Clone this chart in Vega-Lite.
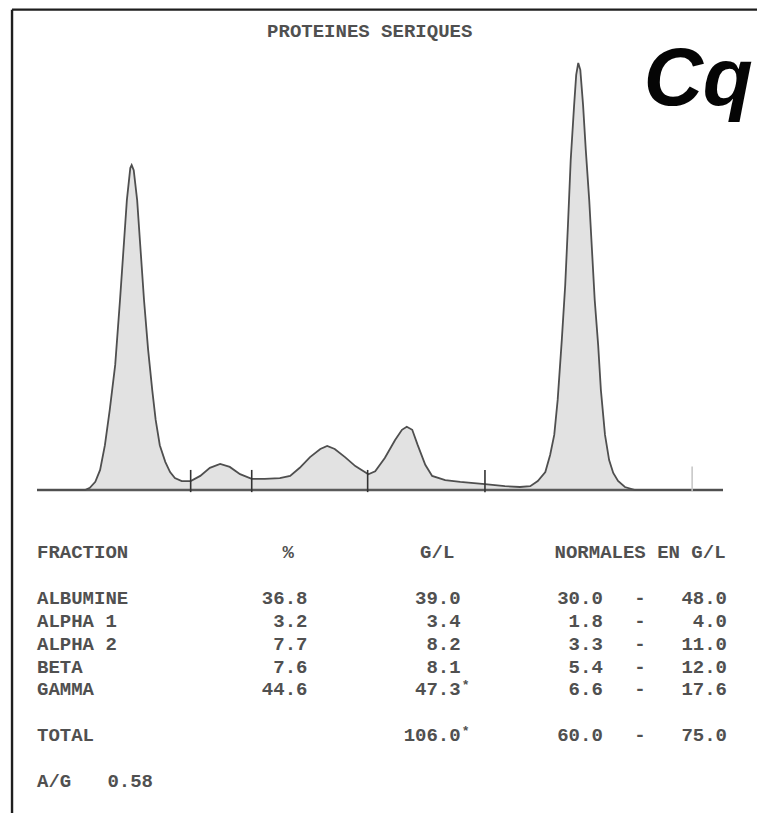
{
  "$schema": "https://vega.github.io/schema/vega-lite/v6.json",
  "description": "Serum protein electrophoresis: densitometric scan with the fraction report below it.",
  "width": 757,
  "height": 813,
  "autosize": {"type": "none"},
  "padding": 0,
  "background": "white",
  "config": {
    "view": {"stroke": null},
    "text": {"font": "Liberation Mono", "fontSize": 19, "fontWeight": "bold", "color": "#505050", "baseline": "middle"}
  },
  "datasets": {
    "scan": [
      {"u": 0, "d": 0}, {"u": 7.0, "d": 0}, {"u": 7.7, "d": 0.5}, {"u": 8.5, "d": 1.9}, {"u": 9.2, "d": 4.7},
      {"u": 9.9, "d": 10.5}, {"u": 10.6, "d": 18.7}, {"u": 11.4, "d": 29.3}, {"u": 12.1, "d": 44.5}, {"u": 12.7, "d": 58.5},
      {"u": 13.1, "d": 67.9}, {"u": 13.6, "d": 75.4}, {"u": 13.8, "d": 76.1}, {"u": 14.1, "d": 74.9}, {"u": 14.6, "d": 67.9},
      {"u": 15.0, "d": 58.5}, {"u": 15.6, "d": 44.5}, {"u": 16.2, "d": 32.8}, {"u": 16.8, "d": 23.4}, {"u": 17.3, "d": 16.4},
      {"u": 17.9, "d": 10.5}, {"u": 18.7, "d": 6.6}, {"u": 19.4, "d": 4.2}, {"u": 20.1, "d": 2.8}, {"u": 21.1, "d": 2.1},
      {"u": 22.4, "d": 2.1}, {"u": 23.8, "d": 3.3}, {"u": 25.2, "d": 5.2}, {"u": 26.7, "d": 6.1}, {"u": 28.1, "d": 5.4},
      {"u": 29.6, "d": 3.7}, {"u": 31.3, "d": 2.6}, {"u": 33.2, "d": 2.6}, {"u": 35.4, "d": 2.8}, {"u": 36.9, "d": 3.3},
      {"u": 38.3, "d": 5.2}, {"u": 39.8, "d": 7.7}, {"u": 41.3, "d": 9.6}, {"u": 42.3, "d": 10.3}, {"u": 43.4, "d": 9.6},
      {"u": 44.9, "d": 7.7}, {"u": 46.4, "d": 5.6}, {"u": 48.3, "d": 3.7}, {"u": 49.3, "d": 4.4}, {"u": 50.7, "d": 7.5},
      {"u": 52.2, "d": 11.7}, {"u": 53.2, "d": 14.1}, {"u": 53.9, "d": 14.8}, {"u": 54.7, "d": 14.1}, {"u": 55.5, "d": 10.5},
      {"u": 56.6, "d": 5.9}, {"u": 57.6, "d": 3.3}, {"u": 59.5, "d": 2.3}, {"u": 61.7, "d": 1.9}, {"u": 65.3, "d": 1.4},
      {"u": 68.2, "d": 0.9}, {"u": 70.4, "d": 0.7}, {"u": 71.9, "d": 0.9}, {"u": 73.0, "d": 2.1}, {"u": 74.1, "d": 4.2},
      {"u": 74.8, "d": 8.2}, {"u": 75.4, "d": 12.9}, {"u": 75.9, "d": 21.1}, {"u": 76.5, "d": 35.1}, {"u": 77.0, "d": 48.0},
      {"u": 77.4, "d": 62.1}, {"u": 77.8, "d": 77.3}, {"u": 78.3, "d": 90.2}, {"u": 78.6, "d": 97.2}, {"u": 78.9, "d": 100},
      {"u": 79.2, "d": 98.4}, {"u": 79.6, "d": 90.2}, {"u": 80.0, "d": 79.6}, {"u": 80.5, "d": 67.9}, {"u": 80.9, "d": 56.2},
      {"u": 81.3, "d": 44.5}, {"u": 81.8, "d": 34.0}, {"u": 82.2, "d": 23.4}, {"u": 82.8, "d": 12.9}, {"u": 83.4, "d": 7.0},
      {"u": 84.0, "d": 4.0}, {"u": 84.7, "d": 2.1}, {"u": 85.7, "d": 0.7}, {"u": 87.2, "d": 0}, {"u": 100, "d": 0}
    ],
    "cuts": [{"u": 22.4}, {"u": 31.3}, {"u": 48.2}, {"u": 65.3}],
    "marker": [{"u": 95.5}],
    "headers": [
      {"heading": "FRACTION"}, {"heading": "%"}, {"heading": "G/L"}, {"heading": "NORMALES EN G/L"}
    ],
    "report": [
      {"fraction": "ALBUMINE", "pct": 36.8, "gl": 39.0, "low": 30.0, "high": 48.0},
      {"fraction": "ALPHA 1", "pct": 3.2, "gl": 3.4, "low": 1.8, "high": 4.0},
      {"fraction": "ALPHA 2", "pct": 7.7, "gl": 8.2, "low": 3.3, "high": 11.0},
      {"fraction": "BETA", "pct": 7.6, "gl": 8.1, "low": 5.4, "high": 12.0},
      {"fraction": "GAMMA", "pct": 44.6, "gl": 47.3, "low": 6.6, "high": 17.6, "flag": "*"},
      {"fraction": "TOTAL", "gl": 106.0, "low": 60.0, "high": 75.0, "flag": "*"},
      {"fraction": "A/G", "ratio": 0.58}
    ]
  },
  "layer": [
    {
      "layer": [
        {
          "data": {"name": "scan"},
          "mark": {"type": "area", "color": "#e2e2e2", "opacity": 1},
          "encoding": {
            "x": {"field": "u", "type": "quantitative", "axis": null, "scale": {"domain": [0, 100], "range": [37, 723], "nice": false, "zero": false}},
            "y": {"field": "d", "type": "quantitative", "axis": null, "scale": {"domain": [0, 100], "range": [490, 63], "nice": false, "zero": false}},
            "y2": {"datum": 0}
          }
        },
        {
          "data": {"values": [{}]},
          "mark": {"type": "rule", "color": "#5a5a5a", "strokeWidth": 2.5},
          "encoding": {
            "x": {"datum": 0, "type": "quantitative", "axis": null, "scale": {"domain": [0, 100], "range": [37, 723], "nice": false, "zero": false}},
            "x2": {"datum": 100},
            "y": {"datum": 0, "type": "quantitative", "axis": null, "scale": {"domain": [0, 100], "range": [490, 63], "nice": false, "zero": false}}
          }
        },
        {
          "data": {"name": "scan"},
          "mark": {"type": "line", "color": "#4f4f4f", "strokeWidth": 1.8},
          "encoding": {
            "x": {"field": "u", "type": "quantitative", "axis": null, "scale": {"domain": [0, 100], "range": [37, 723], "nice": false, "zero": false}},
            "y": {"field": "d", "type": "quantitative", "axis": null, "scale": {"domain": [0, 100], "range": [490, 63], "nice": false, "zero": false}}
          }
        },
        {
          "data": {"name": "cuts"},
          "mark": {"type": "rule", "color": "#333333", "strokeWidth": 1.6},
          "encoding": {
            "x": {"field": "u", "type": "quantitative", "axis": null, "scale": {"domain": [0, 100], "range": [37, 723], "nice": false, "zero": false}},
            "y": {"datum": -0.5, "type": "quantitative", "axis": null, "scale": {"domain": [0, 100], "range": [490, 63], "nice": false, "zero": false}},
            "y2": {"datum": 4.7}
          }
        },
        {
          "data": {"name": "marker"},
          "mark": {"type": "rule", "color": "#c4c4c4", "strokeWidth": 1.5},
          "encoding": {
            "x": {"field": "u", "type": "quantitative", "axis": null, "scale": {"domain": [0, 100], "range": [37, 723], "nice": false, "zero": false}},
            "y": {"datum": -0.3, "type": "quantitative", "axis": null, "scale": {"domain": [0, 100], "range": [490, 63], "nice": false, "zero": false}},
            "y2": {"datum": 5.5}
          }
        },
        {
          "data": {"values": [{}]},
          "mark": {"type": "rule", "color": "#1e1e1e", "strokeWidth": 2.4},
          "encoding": {
            "x": {"datum": -3.64, "type": "quantitative", "axis": null, "scale": {"domain": [0, 100], "range": [37, 723], "nice": false, "zero": false}},
            "x2": {"datum": 108},
            "y": {"datum": 112.5, "type": "quantitative", "axis": null, "scale": {"domain": [0, 100], "range": [490, 63], "nice": false, "zero": false}}
          }
        },
        {
          "data": {"values": [{}]},
          "mark": {"type": "rule", "color": "#1e1e1e", "strokeWidth": 2.4},
          "encoding": {
            "x": {"datum": -3.64, "type": "quantitative", "axis": null, "scale": {"domain": [0, 100], "range": [37, 723], "nice": false, "zero": false}},
            "y": {"datum": 112.5, "type": "quantitative", "axis": null, "scale": {"domain": [0, 100], "range": [490, 63], "nice": false, "zero": false}},
            "y2": {"datum": -80}
          }
        },
        {
          "data": {"values": [{"heading": "PROTEINES SERIQUES"}]},
          "mark": {"type": "text", "align": "center"},
          "encoding": {
            "text": {"field": "heading"},
            "x": {"datum": 48.5, "type": "quantitative", "axis": null, "scale": {"domain": [0, 100], "range": [37, 723], "nice": false, "zero": false}},
            "y": {"datum": 107.5, "type": "quantitative", "axis": null, "scale": {"domain": [0, 100], "range": [490, 63], "nice": false, "zero": false}}
          }
        },
        {
          "data": {"values": [{"brand": "Cq"}]},
          "mark": {"type": "text", "align": "center", "baseline": "alphabetic", "font": "Liberation Sans", "fontSize": 82, "fontWeight": "bold", "fontStyle": "italic", "color": "#050505"},
          "encoding": {
            "text": {"field": "brand"},
            "x": {"datum": 96.4, "type": "quantitative", "axis": null, "scale": {"domain": [0, 100], "range": [37, 723], "nice": false, "zero": false}},
            "y": {"datum": 90.2, "type": "quantitative", "axis": null, "scale": {"domain": [0, 100], "range": [490, 63], "nice": false, "zero": false}}
          }
        }
      ]
    },
    {
      "layer": [
        {
          "data": {"name": "headers"},
          "transform": [{"filter": "datum.heading === 'FRACTION'"}],
          "mark": {"type": "text", "align": "left"},
          "encoding": {
            "text": {"field": "heading"},
            "x": {"datum": 0, "type": "quantitative", "axis": null, "scale": {"domain": [0, 50], "range": [37, 727], "nice": false, "zero": false}},
            "y": {"datum": "FRACTION", "type": "nominal", "axis": null, "scale": {"type": "point", "padding": 0, "domain": ["FRACTION", "_a", "ALBUMINE", "ALPHA 1", "ALPHA 2", "BETA", "GAMMA", "_b", "TOTAL", "_c", "A/G"], "range": [552, 781]}}
          }
        },
        {
          "data": {"name": "headers"},
          "transform": [{"filter": "datum.heading === '%'"}],
          "mark": {"type": "text", "align": "center"},
          "encoding": {
            "text": {"field": "heading"},
            "x": {"datum": 18.2, "type": "quantitative", "axis": null, "scale": {"domain": [0, 50], "range": [37, 727], "nice": false, "zero": false}},
            "y": {"datum": "FRACTION", "type": "nominal", "axis": null, "scale": {"type": "point", "padding": 0, "domain": ["FRACTION", "_a", "ALBUMINE", "ALPHA 1", "ALPHA 2", "BETA", "GAMMA", "_b", "TOTAL", "_c", "A/G"], "range": [552, 781]}}
          }
        },
        {
          "data": {"name": "headers"},
          "transform": [{"filter": "datum.heading === 'G/L'"}],
          "mark": {"type": "text", "align": "center"},
          "encoding": {
            "text": {"field": "heading"},
            "x": {"datum": 29.0, "type": "quantitative", "axis": null, "scale": {"domain": [0, 50], "range": [37, 727], "nice": false, "zero": false}},
            "y": {"datum": "FRACTION", "type": "nominal", "axis": null, "scale": {"type": "point", "padding": 0, "domain": ["FRACTION", "_a", "ALBUMINE", "ALPHA 1", "ALPHA 2", "BETA", "GAMMA", "_b", "TOTAL", "_c", "A/G"], "range": [552, 781]}}
          }
        },
        {
          "data": {"name": "headers"},
          "transform": [{"filter": "datum.heading === 'NORMALES EN G/L'"}],
          "mark": {"type": "text", "align": "center"},
          "encoding": {
            "text": {"field": "heading"},
            "x": {"datum": 43.7, "type": "quantitative", "axis": null, "scale": {"domain": [0, 50], "range": [37, 727], "nice": false, "zero": false}},
            "y": {"datum": "FRACTION", "type": "nominal", "axis": null, "scale": {"type": "point", "padding": 0, "domain": ["FRACTION", "_a", "ALBUMINE", "ALPHA 1", "ALPHA 2", "BETA", "GAMMA", "_b", "TOTAL", "_c", "A/G"], "range": [552, 781]}}
          }
        },
        {
          "data": {"name": "report"},
          "mark": {"type": "text", "align": "left"},
          "encoding": {
            "text": {"field": "fraction"},
            "x": {"datum": 0, "type": "quantitative", "axis": null, "scale": {"domain": [0, 50], "range": [37, 727], "nice": false, "zero": false}},
            "y": {"field": "fraction", "type": "nominal", "axis": null, "scale": {"type": "point", "padding": 0, "domain": ["FRACTION", "_a", "ALBUMINE", "ALPHA 1", "ALPHA 2", "BETA", "GAMMA", "_b", "TOTAL", "_c", "A/G"], "range": [552, 781]}}
          }
        },
        {
          "data": {"name": "report"},
          "transform": [{"filter": "isValid(datum.pct)"}],
          "mark": {"type": "text", "align": "right"},
          "encoding": {
            "text": {"field": "pct", "type": "quantitative", "format": ".1f"},
            "x": {"datum": 19.6, "type": "quantitative", "axis": null, "scale": {"domain": [0, 50], "range": [37, 727], "nice": false, "zero": false}},
            "y": {"field": "fraction", "type": "nominal", "axis": null, "scale": {"type": "point", "padding": 0, "domain": ["FRACTION", "_a", "ALBUMINE", "ALPHA 1", "ALPHA 2", "BETA", "GAMMA", "_b", "TOTAL", "_c", "A/G"], "range": [552, 781]}}
          }
        },
        {
          "data": {"name": "report"},
          "transform": [{"filter": "isValid(datum.gl)"}],
          "mark": {"type": "text", "align": "right"},
          "encoding": {
            "text": {"field": "gl", "type": "quantitative", "format": ".1f"},
            "x": {"datum": 30.7, "type": "quantitative", "axis": null, "scale": {"domain": [0, 50], "range": [37, 727], "nice": false, "zero": false}},
            "y": {"field": "fraction", "type": "nominal", "axis": null, "scale": {"type": "point", "padding": 0, "domain": ["FRACTION", "_a", "ALBUMINE", "ALPHA 1", "ALPHA 2", "BETA", "GAMMA", "_b", "TOTAL", "_c", "A/G"], "range": [552, 781]}}
          }
        },
        {
          "data": {"name": "report"},
          "transform": [{"filter": "isValid(datum.flag)"}],
          "mark": {"type": "text", "align": "left", "fontSize": 13, "dy": -4, "dx": 1},
          "encoding": {
            "text": {"field": "flag"},
            "x": {"datum": 30.7, "type": "quantitative", "axis": null, "scale": {"domain": [0, 50], "range": [37, 727], "nice": false, "zero": false}},
            "y": {"field": "fraction", "type": "nominal", "axis": null, "scale": {"type": "point", "padding": 0, "domain": ["FRACTION", "_a", "ALBUMINE", "ALPHA 1", "ALPHA 2", "BETA", "GAMMA", "_b", "TOTAL", "_c", "A/G"], "range": [552, 781]}}
          }
        },
        {
          "data": {"name": "report"},
          "transform": [{"filter": "isValid(datum.low)"}],
          "mark": {"type": "text", "align": "right"},
          "encoding": {
            "text": {"field": "low", "type": "quantitative", "format": ".1f"},
            "x": {"datum": 41.0, "type": "quantitative", "axis": null, "scale": {"domain": [0, 50], "range": [37, 727], "nice": false, "zero": false}},
            "y": {"field": "fraction", "type": "nominal", "axis": null, "scale": {"type": "point", "padding": 0, "domain": ["FRACTION", "_a", "ALBUMINE", "ALPHA 1", "ALPHA 2", "BETA", "GAMMA", "_b", "TOTAL", "_c", "A/G"], "range": [552, 781]}}
          }
        },
        {
          "data": {"name": "report"},
          "transform": [{"filter": "isValid(datum.low)"}],
          "mark": {"type": "text", "align": "center"},
          "encoding": {
            "text": {"value": "-"},
            "x": {"datum": 43.7, "type": "quantitative", "axis": null, "scale": {"domain": [0, 50], "range": [37, 727], "nice": false, "zero": false}},
            "y": {"field": "fraction", "type": "nominal", "axis": null, "scale": {"type": "point", "padding": 0, "domain": ["FRACTION", "_a", "ALBUMINE", "ALPHA 1", "ALPHA 2", "BETA", "GAMMA", "_b", "TOTAL", "_c", "A/G"], "range": [552, 781]}}
          }
        },
        {
          "data": {"name": "report"},
          "transform": [{"filter": "isValid(datum.high)"}],
          "mark": {"type": "text", "align": "right"},
          "encoding": {
            "text": {"field": "high", "type": "quantitative", "format": ".1f"},
            "x": {"datum": 50.0, "type": "quantitative", "axis": null, "scale": {"domain": [0, 50], "range": [37, 727], "nice": false, "zero": false}},
            "y": {"field": "fraction", "type": "nominal", "axis": null, "scale": {"type": "point", "padding": 0, "domain": ["FRACTION", "_a", "ALBUMINE", "ALPHA 1", "ALPHA 2", "BETA", "GAMMA", "_b", "TOTAL", "_c", "A/G"], "range": [552, 781]}}
          }
        },
        {
          "data": {"name": "report"},
          "transform": [{"filter": "isValid(datum.ratio)"}],
          "mark": {"type": "text", "align": "left"},
          "encoding": {
            "text": {"field": "ratio", "type": "quantitative", "format": ".2f"},
            "x": {"datum": 5.1, "type": "quantitative", "axis": null, "scale": {"domain": [0, 50], "range": [37, 727], "nice": false, "zero": false}},
            "y": {"field": "fraction", "type": "nominal", "axis": null, "scale": {"type": "point", "padding": 0, "domain": ["FRACTION", "_a", "ALBUMINE", "ALPHA 1", "ALPHA 2", "BETA", "GAMMA", "_b", "TOTAL", "_c", "A/G"], "range": [552, 781]}}
          }
        }
      ]
    }
  ],
  "resolve": {"scale": {"x": "independent", "y": "independent"}}
}
